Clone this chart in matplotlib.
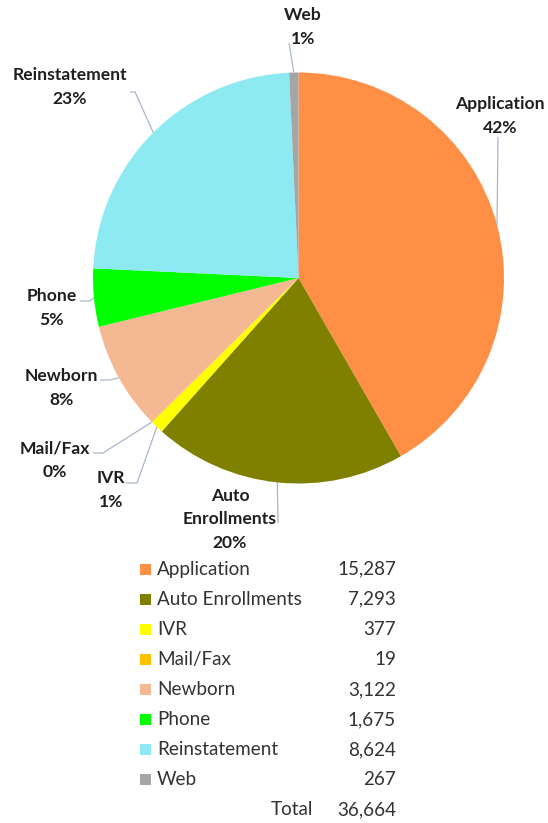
import numpy
from matplotlib import pyplot as plt

# ----------
# Data

categories = ['Application', 'Auto Enrollments', 'IVR', 'Mail/Fax',
              'Newborn', 'Phone', 'Reinstatement', 'Web']
counts = [15287, 7293, 377, 19, 3122, 1675, 8624, 267]
pct_labels = ['42%', '20%', '1%', '0%', '8%', '5%', '23%', '1%']
pie_names = ['Application', 'Auto\nEnrollments', 'IVR', 'Mail/Fax',
             'Newborn', 'Phone', 'Reinstatement', 'Web']
colors = ['#FF8F45', '#808000', '#FFFF00', '#FFC000',
          '#F4B993', '#00FF00', '#8EEAF2', '#A5A5A5']

# ----------
# Layout (pixels from top-left)

W, H = 548, 823
cx, cy, r = 298.5, 278, 205.5

# label centre (x, first line y) and leader elbow points
label_pos = [(500, 104), (230, 496), (111, 478), (55, 448),
             (61, 376), (52, 296), (70, 75), (303, 15)]
leader_start = [[(498, 137)], [(278, 523)], [(126, 483), (137, 483)],
                [(93, 453), (103, 453)], [(100, 380), (110, 380)],
                [(80, 301), (90, 301)], [(130, 92), (135, 92)], [(289, 43)]]

plt.rcParams['font.family'] = ['Lato', 'DejaVu Sans']

fig = plt.figure(figsize=(W / 100, H / 100), dpi=100)
ax = fig.add_axes([0, 0, 1, 1])

ax.pie(counts, colors=colors, startangle=90, counterclock=False,
       center=(cx, H - cy), radius=r, wedgeprops=dict(linewidth=0))

ax.set_xlim(0, W)
ax.set_ylim(0, H)
ax.set_aspect('auto')
ax.axis('off')

# mid angle of each wedge, clockwise from top
total = sum(counts)
cum = numpy.cumsum([0] + counts)
mid = (cum[:-1] + cum[1:]) / 2 / total * 2 * numpy.pi

label_col = '#1F1F1F'
line_col = '#A9B6CC'
line_h = 23.5

for i in range(len(categories)):
    ex = cx + r * numpy.sin(mid[i])
    ey = cy - r * numpy.cos(mid[i])
    pts = leader_start[i] + [(ex, ey)]
    ax.plot([p[0] for p in pts], [H - p[1] for p in pts],
            color=line_col, lw=0.9, solid_capstyle='butt')
    lines = pie_names[i].split('\n') + [pct_labels[i]]
    x0, y0 = label_pos[i]
    for k, t in enumerate(lines):
        ax.text(x0, H - (y0 + k * line_h), t, ha='center', va='center',
                fontsize=12.6, fontweight='bold', color=label_col)

# ----------
# Table legend

leg_col = '#333333'
fs = 13.6
row_y0 = 569
row_h = 30.1
for i in range(len(categories)):
    y = H - (row_y0 + i * row_h)
    ax.add_patch(plt.Rectangle((140, y - 5.5), 11, 11, color=colors[i], lw=0))
    ax.text(157, y, categories[i], ha='left', va='center',
            fontsize=fs, color=leg_col)
    ax.text(396, y, f'{counts[i]:,}', ha='right', va='center',
            fontsize=fs, color=leg_col)

y = H - (row_y0 + len(categories) * row_h)
ax.text(313, y, 'Total', ha='right', va='center', fontsize=fs, color=leg_col)
ax.text(396, y, f'{total:,}', ha='right', va='center', fontsize=fs, color=leg_col)

fig.savefig('out.png', dpi=100)
